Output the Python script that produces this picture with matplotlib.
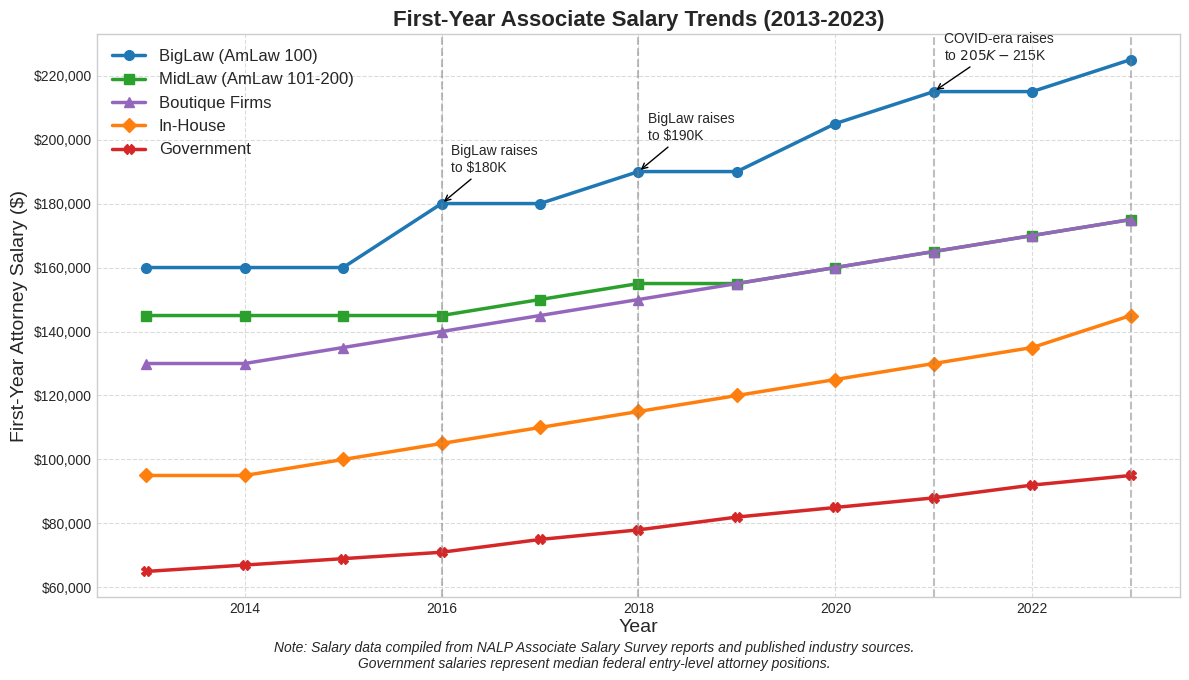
import matplotlib.pyplot as plt
import matplotlib.ticker as mticker

# data (USD)
years = [2013, 2014, 2015, 2016, 2017, 2018, 2019, 2020, 2021, 2022, 2023]
biglaw = [160000, 160000, 160000, 180000, 180000, 190000, 190000, 205000, 215000, 215000, 225000]
midlaw = [145000, 145000, 145000, 145000, 150000, 155000, 155000, 160000, 165000, 170000, 175000]
boutique = [130000, 130000, 135000, 140000, 145000, 150000, 155000, 160000, 165000, 170000, 175000]
inhouse = [95000, 95000, 100000, 105000, 110000, 115000, 120000, 125000, 130000, 135000, 145000]
government = [65000, 67000, 69000, 71000, 75000, 78000, 82000, 85000, 88000, 92000, 95000]

key_years = [2016, 2018, 2021, 2023]
notes = {
    2016: "BigLaw raises\nto $180K",
    2018: "BigLaw raises\nto $190K",
    2021: "COVID-era raises\nto $205K-$215K",
}

plt.style.use('seaborn-v0_8-whitegrid')
plt.rcParams['font.family'] = ['Liberation Sans', 'DejaVu Sans']

fig, ax = plt.subplots(figsize=(11.89, 6.8), dpi=100)

series = [
    ("BigLaw (AmLaw 100)", biglaw, '#1f77b4', 'o'),
    ("MidLaw (AmLaw 101-200)", midlaw, '#2ca02c', 's'),
    ("Boutique Firms", boutique, '#9467bd', '^'),
    ("In-House", inhouse, '#ff7f0e', 'D'),
    ("Government", government, '#d62728', 'X'),
]
for label, vals, color, marker in series:
    ax.plot(years, vals, color=color, marker=marker, linewidth=2.5,
            markersize=7, label=label)

for yr in key_years:
    ax.axvline(yr, color='gray', linestyle='--', alpha=0.5, linewidth=1.5)

for yr, txt in notes.items():
    val = biglaw[years.index(yr)]
    ax.annotate(txt, xy=(yr, val), xytext=(yr + 0.1, val + 10000),
                fontsize=10, arrowprops=dict(arrowstyle='->', color='black'))

ax.yaxis.set_major_formatter(mticker.FuncFormatter(lambda v, p: f"${v:,.0f}"))
ax.grid(True, linestyle='--', alpha=0.7)
for s in ax.spines.values():
    s.set_visible(True)
    s.set_color('#cccccc')

ax.set_title("First-Year Associate Salary Trends (2013-2023)", fontsize=16, fontweight='bold', pad=6)
ax.set_xlabel("Year", fontsize=14, labelpad=2)
ax.set_ylabel("First-Year Attorney Salary ($)", fontsize=14)
ax.legend(loc='upper left', fontsize=12)

fig.text(0.5, 0.018,
         "Note: Salary data compiled from NALP Associate Salary Survey reports and published industry sources.\n"
         "Government salaries represent median federal entry-level attorney positions.",
         ha='center', fontsize=10, style='italic')

fig.subplots_adjust(left=0.0816, right=0.9924, top=0.95, bottom=0.122)
plt.savefig("out.png")
